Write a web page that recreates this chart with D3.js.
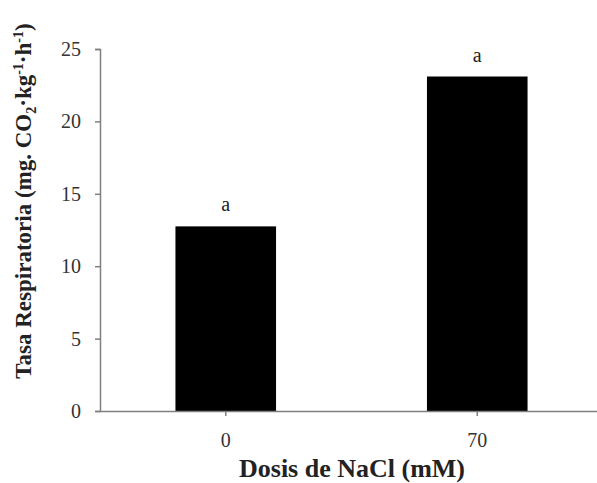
<!DOCTYPE html>
<html>
<head>
<meta charset="utf-8">
<script src="https://cdn.jsdelivr.net/npm/d3@7"></script>
<style>
  body { margin: 0; background: #fff; }
  svg { display: block; }
  text { font-family: "Liberation Serif", "Times New Roman", Times, serif; }
</style>
</head>
<body>
<div id="chart"></div>
<script>
// Chart data
var doses = ["0", "70"];
var rates = [12.75, 23.1];
var letters = ["a", "a"];
var yTicks = [0, 5, 10, 15, 20, 25];

var svgWidth = 597;
var svgHeight = 483;

var margin = { top: 49, right: -6, bottom: 72, left: 100 };
var chartWidth = svgWidth - margin.left - margin.right;
var chartHeight = svgHeight - margin.top - margin.bottom;

var svg = d3.select("#chart")
  .append("svg")
  .attr("width", svgWidth)
  .attr("height", svgHeight);

var chartGroup = svg.append("g")
  .attr("transform", `translate(${margin.left}, ${margin.top})`);

var xScale = d3.scaleBand()
  .domain(doses)
  .range([0, chartWidth])
  .paddingInner(0.6)
  .paddingOuter(0.3);

var yScale = d3.scaleLinear()
  .domain([0, 25])
  .range([chartHeight, 0]);

// bars
chartGroup.selectAll("rect.bar")
  .data(doses)
  .join("rect")
  .attr("class", "bar")
  .attr("x", d => xScale(d))
  .attr("width", xScale.bandwidth())
  .attr("y", (d, i) => yScale(rates[i]))
  .attr("height", (d, i) => chartHeight - yScale(rates[i]))
  .attr("fill", "#000");

// significance letters
chartGroup.selectAll("text.letter")
  .data(doses)
  .join("text")
  .attr("class", "letter")
  .attr("x", d => xScale(d) + xScale.bandwidth() / 2)
  .attr("y", (d, i) => yScale(rates[i]) - 15)
  .attr("text-anchor", "middle")
  .style("font-size", "20px")
  .attr("fill", "#222")
  .text((d, i) => letters[i]);

// left axis
var leftAxis = d3.axisLeft(yScale)
  .tickValues(yTicks)
  .tickSize(5)
  .tickPadding(14);

var yAxisG = chartGroup.append("g").call(leftAxis);
yAxisG.selectAll("path, line").attr("stroke", "#7f7f7f").attr("stroke-width", 1.5);
yAxisG.selectAll("text")
  .style("font-size", "20px")
  .attr("fill", "#333");

// bottom axis
var bottomAxis = d3.axisBottom(xScale)
  .tickSize(5)
  .tickSizeOuter(0)
  .tickPadding(17);

var xAxisG = chartGroup.append("g")
  .attr("transform", `translate(0, ${chartHeight})`)
  .call(bottomAxis);
xAxisG.selectAll("path, line").attr("stroke", "#7f7f7f").attr("stroke-width", 1.5);
xAxisG.selectAll("text")
  .style("font-size", "20px")
  .attr("fill", "#333");

// x axis title
svg.append("text")
  .attr("x", 352)
  .attr("y", 477)
  .attr("text-anchor", "middle")
  .style("font-size", "26px")
  .attr("font-weight", "bold")
  .attr("fill", "#222")
  .text("Dosis de NaCl (mM)");

// y axis title
var yTitle = svg.append("text")
  .attr("transform", "translate(31, 201) rotate(-90)")
  .attr("text-anchor", "middle")
  .style("font-size", "23px")
  .attr("font-weight", "bold")
  .attr("fill", "#222");
yTitle.append("tspan").text("Tasa Respiratoria (mg. CO");
yTitle.append("tspan").style("font-size", "14px").attr("dy", 5).text("2");
yTitle.append("tspan").attr("dy", -5).text("·kg");
yTitle.append("tspan").style("font-size", "14px").attr("dy", -8).text("-1");
yTitle.append("tspan").attr("dy", 8).text("·h");
yTitle.append("tspan").style("font-size", "14px").attr("dy", -8).text("-1");
yTitle.append("tspan").attr("dy", 8).text(")");
</script>
</body>
</html>
